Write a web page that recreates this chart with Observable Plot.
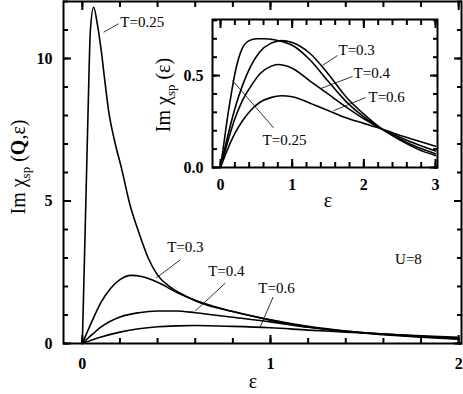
<!DOCTYPE html>
<html><head><meta charset="utf-8">
<script src="https://cdn.jsdelivr.net/npm/d3@7"></script>
<script src="https://cdn.jsdelivr.net/npm/@observablehq/plot@0.6"></script>
<style>
body{margin:0;background:#fff;}
#wrap{position:relative;width:463px;height:394px;}
#wrap > div{position:absolute;left:0;top:0;}
</style></head><body><div id="wrap"><div id="main"></div><div id="inset"></div></div>
<script>
const FONT = "Liberation Serif, Times New Roman, serif";
// Main panel: Im chi_sp(Q, eps) for several temperatures
const mainT025 = [[0,0],[0.01,2.6],[0.02,5.3],[0.03,8.0],[0.043,11.0],[0.06,11.8],[0.08,11.2],[0.1,10.3],[0.12,9.2],[0.14,8.15],[0.17,7.15],[0.21,6.1],[0.25,4.95],[0.3,3.9],[0.35,3.0],[0.4,2.4],[0.47,1.97],[0.55,1.66],[0.63,1.42],[0.8,1.12],[1.0,0.82],[1.2,0.58],[1.4,0.42],[1.6,0.31],[1.8,0.22],[2.0,0.15]];
const mainT03 = [[0,0],[0.05,0.76],[0.1,1.45],[0.15,1.93],[0.2,2.24],[0.26,2.39],[0.32,2.34],[0.4,2.15],[0.5,1.8],[0.6,1.52],[0.7,1.3],[0.8,1.12],[1.0,0.83],[1.2,0.6],[1.4,0.44],[1.6,0.33],[1.8,0.24],[2.0,0.17]];
const mainT04 = [[0,0],[0.05,0.3],[0.1,0.58],[0.2,0.93],[0.3,1.08],[0.4,1.14],[0.5,1.14],[0.6,1.08],[0.7,1.0],[0.8,0.92],[1.0,0.76],[1.2,0.57],[1.4,0.43],[1.6,0.33],[1.8,0.25],[2.0,0.19]];
const mainT06 = [[0,0],[0.1,0.23],[0.2,0.4],[0.3,0.52],[0.4,0.59],[0.5,0.62],[0.6,0.63],[0.8,0.6],[1.0,0.55],[1.2,0.47],[1.4,0.4],[1.6,0.33],[1.8,0.27],[2.0,0.22]];
// Inset: Im chi_sp(eps) (local)
const insetT025 = [[0,0],[0.05,0.14],[0.1,0.28],[0.15,0.4],[0.2,0.51],[0.25,0.59],[0.3,0.645],[0.4,0.69],[0.5,0.70],[0.6,0.70],[0.75,0.695],[0.9,0.68],[1.0,0.665],[1.25,0.585],[1.5,0.47],[1.75,0.36],[2.0,0.275],[2.25,0.21],[2.5,0.15],[2.75,0.1],[3.0,0.065]];
const insetT03 = [[0,0],[0.1,0.17],[0.2,0.32],[0.3,0.44],[0.42,0.55],[0.55,0.63],[0.7,0.675],[0.85,0.69],[1.0,0.68],[1.25,0.62],[1.5,0.51],[1.75,0.385],[2.0,0.29],[2.25,0.21],[2.5,0.155],[2.75,0.11],[3.0,0.075]];
const insetT04 = [[0,0],[0.1,0.14],[0.2,0.265],[0.3,0.36],[0.42,0.44],[0.55,0.51],[0.7,0.55],[0.8,0.56],[1.0,0.54],[1.25,0.47],[1.5,0.4],[1.75,0.33],[2.0,0.265],[2.25,0.21],[2.5,0.165],[2.75,0.125],[3.0,0.09]];
const insetT06 = [[0,0],[0.1,0.1],[0.2,0.185],[0.3,0.25],[0.42,0.31],[0.55,0.355],[0.7,0.38],[0.85,0.39],[1.0,0.385],[1.25,0.35],[1.5,0.31],[1.75,0.27],[2.0,0.24],[2.25,0.21],[2.5,0.175],[2.75,0.145],[3.0,0.115]];

// tick labels
const mainXTicks = [0, 1, 2];
const mainYTicks = [0, 5, 10];
const insetXTicks = [0, 1, 2, 3];
const insetYTicks = [0, 0.5];
const mainXMinor = d3.range(0, 2.0001, 0.2);
const mainYMinor = d3.range(0, 12.0001, 1);
const insetXMinor = d3.range(0, 3.0001, 0.2);
const insetYMinor = d3.range(0, 0.80001, 0.1);

// annotations (data coordinates)
const mainLabels = [
  {t:"T=0.25", x:0.202, y:11.26, x1:0.113, y1:10.92, x2:0.193, y2:11.22},
  {t:"T=0.3", x:0.451, y:3.37, x1:0.52, y1:2.93, x2:0.393, y2:2.3},
  {t:"T=0.4", x:0.669, y:2.53, x1:0.76, y1:2.12, x2:0.6, y2:1.14},
  {t:"T=0.6", x:0.935, y:1.93, x1:1.014, y1:1.63, x2:0.945, y2:0.58}
];
const mainNote = [{t:"U=8", x:1.662, y:2.95}];
const insetLabels = [
  {t:"T=0.3", x:1.646, y:0.636, x1:1.632, y1:0.609, x2:1.423, y2:0.555},
  {t:"T=0.4", x:1.856, y:0.511, x1:1.842, y1:0.495, x2:1.395, y2:0.429},
  {t:"T=0.6", x:2.065, y:0.385, x1:2.023, y1:0.38, x2:1.577, y2:0.309},
  {t:"T=0.25", x:0.586, y:0.146, x1:0.74, y1:0.216, x2:0.167, y2:0.473}
];

const lineOpts = {x: d => d[0], y: d => d[1], stroke: "black", strokeWidth: 1.6, curve: "monotone-x"};
const tickFont = {fontFamily: FONT, fontSize: 16, fontWeight: "bold", fill: "black"};

// inward tick marks on all four sides (negative tick size = drawn inside the frame)
function inwardTicks(xMinor, xMajor, yMinor, yMajor) {
  const m = [];
  const none = () => "";
  for (const a of ["bottom", "top"]) {
    m.push(Plot.axisX(xMinor, {anchor: a, tickSize: -5, tickFormat: none, stroke: "black", strokeWidth: 2}));
    m.push(Plot.axisX(xMajor, {anchor: a, tickSize: -8, tickFormat: none, stroke: "black", strokeWidth: 2}));
  }
  for (const a of ["left", "right"]) {
    m.push(Plot.axisY(yMinor, {anchor: a, tickSize: -5, tickFormat: none, stroke: "black", strokeWidth: 2}));
    m.push(Plot.axisY(yMajor, {anchor: a, tickSize: -8, tickFormat: none, stroke: "black", strokeWidth: 2}));
  }
  return m;
}

const main = Plot.plot({
  width: 463, height: 394,
  marginLeft: 63, marginRight: 2, marginTop: 1, marginBottom: 51,
  style: {background: "transparent", fontFamily: FONT, overflow: "visible"},
  x: {domain: [-0.1, 2.015]},
  y: {domain: [0, 12]},
  marks: [
    ...inwardTicks(mainXMinor, mainXTicks, mainYMinor, mainYTicks),
    Plot.axisX(mainXTicks, {anchor: "bottom", tickSize: 0, tickPadding: 14, tickFormat: d3.format("d"), label: null, ...tickFont}),
    Plot.axisY(mainYTicks, {anchor: "left", tickSize: 0, tickPadding: 11, tickFormat: d3.format("d"), label: null, ...tickFont}),
    Plot.line(mainT025, lineOpts),
    Plot.line(mainT03, lineOpts),
    Plot.line(mainT04, lineOpts),
    Plot.line(mainT06, lineOpts),
    Plot.link(mainLabels, {x1: "x1", y1: "y1", x2: "x2", y2: "y2", stroke: "black", strokeWidth: 0.8}),
    Plot.text(mainLabels, {x: "x", y: "y", text: "t", textAnchor: "start", fontFamily: FONT, fontSize: 15, fill: "black"}),
    Plot.text(mainNote, {x: "x", y: "y", text: "t", textAnchor: "start", fontFamily: FONT, fontSize: 15, fill: "black"}),
    Plot.frame({stroke: "black", strokeWidth: 2})
  ]
});
document.getElementById("main").append(main);

const inset = Plot.plot({
  width: 463, height: 394,
  marginLeft: 212, marginRight: 26, marginTop: 19, marginBottom: 227,
  style: {background: "transparent", fontFamily: FONT, overflow: "visible"},
  x: {domain: [-0.112, 3.028]},
  y: {domain: [0, 0.805]},
  marks: [
    Plot.frame({fill: "white", stroke: null}),
    ...inwardTicks(insetXMinor, insetXTicks, insetYMinor, insetYTicks),
    Plot.axisX(insetXTicks, {anchor: "bottom", tickSize: 0, tickPadding: 11, tickFormat: d3.format("d"), label: null, ...tickFont}),
    Plot.axisY(insetYTicks, {anchor: "left", tickSize: 0, tickPadding: 9, tickFormat: d3.format(".1f"), label: null, ...tickFont}),
    Plot.line(insetT025, lineOpts),
    Plot.line(insetT03, lineOpts),
    Plot.line(insetT04, lineOpts),
    Plot.line(insetT06, lineOpts),
    Plot.link(insetLabels, {x1: "x1", y1: "y1", x2: "x2", y2: "y2", stroke: "black", strokeWidth: 0.8}),
    Plot.text(insetLabels, {x: "x", y: "y", text: "t", textAnchor: "start", fontFamily: FONT, fontSize: 15, fill: "black"}),
    Plot.frame({stroke: "black", strokeWidth: 2})
  ]
});
document.getElementById("inset").append(inset);

// axis titles with subscripts
function yTitle(svg, x, y, withQ) {
  const t = d3.select(svg).append("text")
    .attr("transform", `translate(${x},${y}) rotate(-90)`)
    .attr("text-anchor", "middle")
    .attr("font-family", FONT).attr("font-size", 20).attr("fill", "black");
  t.append("tspan").text("Im χ");
  t.append("tspan").attr("font-size", 13).attr("dy", 5).text("sp");
  t.append("tspan").attr("dy", -5).text(" (");
  if (withQ) {
    t.append("tspan").attr("font-weight", "bold").text("Q");
    t.append("tspan").text(",ε)");
  } else {
    t.append("tspan").text("ε)");
  }
}
function xTitle(svg, x, y) {
  d3.select(svg).append("text").attr("x", x).attr("y", y)
    .attr("text-anchor", "middle").attr("font-family", FONT)
    .attr("font-size", 20).attr("fill", "black").text("ε");
}
yTitle(main, 25, 167, true);
xTitle(main, 253, 388);
yTitle(inset, 170, 95, false);
xTitle(inset, 328, 207);
</script></body></html>
